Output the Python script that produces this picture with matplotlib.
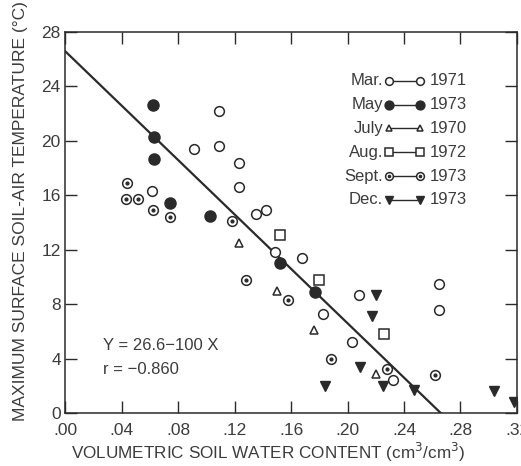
import matplotlib
matplotlib.use("Agg")
import matplotlib.pyplot as plt
import numpy as np

plt.rcParams['font.family'] = ['Liberation Sans', 'DejaVu Sans']

# soil water content (x) vs max surface soil-air temperature (y)
mar_x = [0.0615, 0.091, 0.109, 0.109, 0.123, 0.123, 0.1355, 0.1425, 0.149, 0.168, 0.183, 0.208, 0.2035, 0.2325, 0.265, 0.265]
mar_y = [16.3, 19.4, 22.2, 19.6, 18.4, 16.6, 14.6, 14.9, 11.8, 11.4, 7.3, 8.7, 5.2, 2.4, 9.5, 7.6]
may_x = [0.0624, 0.063, 0.063, 0.0745, 0.103, 0.152, 0.177]
may_y = [22.6, 20.3, 18.7, 15.4, 14.5, 11.0, 8.9]
july_x = [0.123, 0.150, 0.176, 0.220]
july_y = [12.5, 9.0, 6.1, 2.9]
aug_x = [0.1525, 0.180, 0.2255]
aug_y = [13.1, 9.8, 5.8]
sept_x = [0.044, 0.043, 0.052, 0.0625, 0.074, 0.118, 0.128, 0.158, 0.188, 0.228, 0.262]
sept_y = [16.9, 15.7, 15.7, 14.9, 14.4, 14.1, 9.8, 8.3, 4.0, 3.2, 2.8]
dec_x = [0.220, 0.217, 0.209, 0.184, 0.225, 0.247, 0.304, 0.318]
dec_y = [8.7, 7.1, 3.4, 2.0, 2.0, 1.7, 1.6, 0.8]

intercept = 26.6
slope = -100

x_ticks = [0.0, 0.04, 0.08, 0.12, 0.16, 0.20, 0.24, 0.28, 0.32]
x_labels = ['.00', '.04', '.08', '.12', '.16', '.20', '.24', '.28', '.32']
y_ticks = [0, 4, 8, 12, 16, 20, 24, 28]

legend_months = ['Mar.', 'May', 'July', 'Aug.', 'Sept.', 'Dec.']
legend_years = ['1971', '1973', '1970', '1972', '1973', '1973']

ink = '#2a2a2a'
txt = '#3c3c3c'

fig = plt.figure(figsize=(5.21, 4.66), dpi=100)
ax = fig.add_axes([0.1248, 0.1137, 0.8675, 0.8176])

styles = {
    'Mar.': dict(marker='o', ms=7, mfc='white', mec=ink, mew=1.1),
    'May': dict(marker='o', ms=8, mfc=ink, mec=ink, mew=1.0),
    'July': dict(marker='^', ms=6, mfc='white', mec=ink, mew=1.1),
    'Aug.': dict(marker='s', ms=6.5, mfc='white', mec=ink, mew=1.1),
    'Sept.': dict(marker='o', ms=7, mfc='white', mec=ink, mew=1.1),
    'Dec.': dict(marker='v', ms=7, mfc=ink, mec=ink, mew=1.0),
}

xl = np.array([0, -intercept / slope])
ax.plot(xl, intercept + slope * xl, color=ink, lw=1.6, zorder=2)

series = [('Mar.', mar_x, mar_y), ('May', may_x, may_y), ('July', july_x, july_y),
          ('Aug.', aug_x, aug_y), ('Sept.', sept_x, sept_y), ('Dec.', dec_x, dec_y)]
for name, xs, ys in series:
    ax.plot(xs, ys, ls='none', zorder=3, clip_on=True, **styles[name])
# dot in the centre of the Sept. circles
ax.plot(sept_x, sept_y, ls='none', marker='o', ms=2, mfc=ink, mec=ink, zorder=4)

ax.set_xlim(0, 0.32)
ax.set_ylim(0, 28)
ax.set_xticks(x_ticks)
ax.set_xticklabels(x_labels)
ax.set_yticks(y_ticks)
ax.tick_params(direction='in', length=8.5, width=1.0, color=ink, labelcolor=txt,
               labelsize=12.5, top=True, right=True, pad=3)
ax.tick_params(axis='x', pad=7)
for sp in ax.spines.values():
    sp.set_color(ink)
    sp.set_linewidth(1.1)

ax.set_xlabel('VOLUMETRIC SOIL WATER CONTENT (cm$^3$/cm$^3$)', fontsize=12.3, color=txt,
              x=0.45, labelpad=2)
ax.set_ylabel('MAXIMUM SURFACE SOIL-AIR TEMPERATURE (°C)', fontsize=12.5, color=txt,
              y=0.53, labelpad=10)

ax.text(0.085, 0.178, 'Y = 26.6\u2212100 X', transform=ax.transAxes, fontsize=12,
        color=txt, va='center')
ax.text(0.085, 0.113, 'r = \u22120.860', transform=ax.transAxes, fontsize=12,
        color=txt, va='center')

# legend: month  marker—marker  year
row_y0 = 0.872
row_dy = 0.0625
for i, (m, yr) in enumerate(zip(legend_months, legend_years)):
    yy = row_y0 - i * row_dy
    ax.text(0.704, yy, m, transform=ax.transAxes, ha='right', va='center',
            fontsize=12, color=txt)
    ax.plot([0.716, 0.786], [yy, yy], transform=ax.transAxes, color=ink, lw=1.0,
            clip_on=False, **{k: v * 0.8 if k == 'ms' else v for k, v in styles[m].items()})
    if m == 'Sept.':
        ax.plot([0.716, 0.786], [yy, yy], transform=ax.transAxes, ls='none', marker='o',
                ms=1.6, mfc=ink, mec=ink, clip_on=False)
    ax.text(0.806, yy, yr, transform=ax.transAxes, ha='left', va='center',
            fontsize=12, color=txt)

fig.savefig('out.png', dpi=100)
